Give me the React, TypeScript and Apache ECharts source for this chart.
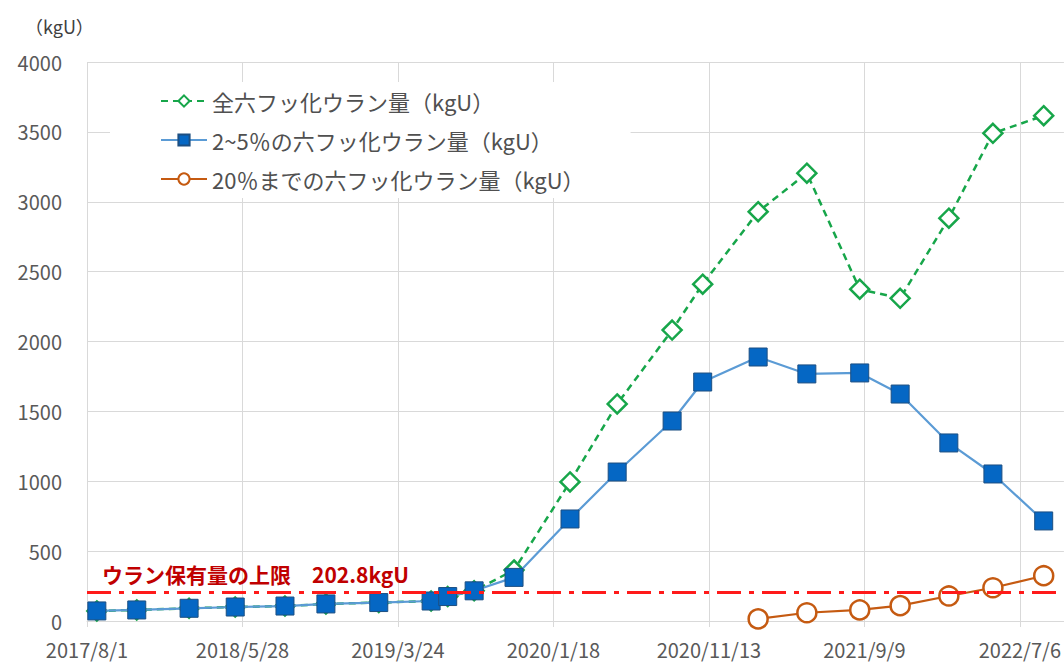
import React, { useEffect, useRef } from "react";
import * as echarts from "echarts";

const BASE_DATE = "2017/8/1";
const dates = [
  "2017/8/20", "2017/11/5", "2018/2/14", "2018/5/14", "2018/8/18", "2018/11/5",
  "2019/2/15", "2019/5/27", "2019/6/28", "2019/8/18", "2019/11/3", "2020/2/19",
  "2020/5/20", "2020/9/3", "2020/11/1", "2021/2/16", "2021/5/21", "2021/8/31",
  "2021/11/17", "2022/2/19", "2022/5/15", "2022/8/21",
];
const totalUF6 = [72, 79, 91, 100, 107, 122, 132, 143, 175, 216, 365, 995, 1553, 2082, 2410, 2929, 3204, 2374, 2309, 2882, 3490, 3616];
const lowEnriched = [72, 79, 91, 100, 107, 122, 132, 143, 175, 216, 312, 730, 1066, 1431, 1710, 1889, 1768, 1775, 1624, 1274, 1052, 716];
const upTo20 = [null, null, null, null, null, null, null, null, null, null, null, null, null, null, null, 15, 59, 79, 110, 179, 238, 324];
const seriesNames = ["全六フッ化ウラン量（kgU）", "2~5％の六フッ化ウラン量（kgU）", "20％までの六フッ化ウラン量（kgU）"];
const LIMIT = 202.8;
const LIMIT_LABEL = "ウラン保有量の上限\u3000202.8kgU";
const X_MAX_DAYS = 1885;
const X_INTERVAL_DAYS = 300;

const DAY = 86400000;
const toUTC = (s: string) => {
  const [y, m, d] = s.split("/").map(Number);
  return Date.UTC(y, m - 1, d);
};
const base = toUTC(BASE_DATE);
const dayOf = (s: string) => Math.round((toUTC(s) - base) / DAY);
const fmtDay = (v: number) => {
  const d = new Date(base + v * DAY);
  return `${d.getUTCFullYear()}/${d.getUTCMonth() + 1}/${d.getUTCDate()}`;
};
const pairs = (vals: (number | null)[]) =>
  dates.map((s, i) => [dayOf(s), vals[i]]).filter((p) => p[1] !== null);

const FONT = "'Noto Sans CJK JP', 'Noto Sans', sans-serif";
const GREEN = "#17a64a";
const BLUE_LINE = "#5b9bd5";
const BLUE_FILL = "#0567c4";
const ORANGE = "#c55a11";
const GRID = "#d9d9d9";
const TEXT = "#595959";

export default function App() {
  const ref = useRef<HTMLDivElement>(null);
  useEffect(() => {
    if (!ref.current) return;
    const chart = echarts.init(ref.current, undefined, { renderer: "svg" });
    chart.setOption({
      animation: false,
      textStyle: { fontFamily: FONT },
      title: {
        text: "（kgU）",
        left: 20,
        top: 12,
        textStyle: { fontSize: 18, fontWeight: "normal", color: "#404040", fontFamily: FONT },
      },
      legend: {
        orient: "vertical",
        left: 110,
        top: 82,
        backgroundColor: "#ffffff",
        padding: [8, 46, 8, 50],
        itemGap: 17,
        itemWidth: 46,
        itemHeight: 14,
        textStyle: { fontSize: 22, color: "#505050", fontFamily: FONT, lineHeight: 22 },
        data: seriesNames,
      },
      grid: { left: 87, right: 0, top: 62, bottom: 41, containLabel: false },
      xAxis: {
        type: "value",
        min: 0,
        max: X_MAX_DAYS,
        interval: X_INTERVAL_DAYS,
        axisLine: { show: true, lineStyle: { color: GRID, width: 1 } },
        axisTick: { show: true, length: 6, lineStyle: { color: GRID } },
        splitLine: { show: true, lineStyle: { color: GRID, width: 1 } },
        axisLabel: {
          formatter: (v: number) => fmtDay(v),
          fontSize: 20,
          color: TEXT,
          margin: 18,
          showMaxLabel: false,
          fontFamily: FONT,
        },
      },
      yAxis: {
        type: "value",
        min: 0,
        max: 4000,
        interval: 500,
        axisLine: { show: false },
        axisTick: { show: false },
        splitLine: { show: true, lineStyle: { color: GRID, width: 1 } },
        axisLabel: { fontSize: 20, color: TEXT, margin: 25, fontFamily: FONT, formatter: (v: number) => String(v) },
      },
      series: [
        {
          name: seriesNames[0],
          type: "line",
          data: pairs(totalUF6),
          symbol: "diamond",
          symbolSize: 19,
          showAllSymbol: true,
          lineStyle: { color: GREEN, width: 2.5, type: [7, 5] },
          itemStyle: { color: "#ffffff", borderColor: GREEN, borderWidth: 2.5 },
          z: 2,
        },
        {
          name: seriesNames[1],
          type: "line",
          data: pairs(lowEnriched),
          symbol: "rect",
          symbolSize: 18,
          showAllSymbol: true,
          lineStyle: { color: BLUE_LINE, width: 2.2 },
          itemStyle: { color: BLUE_FILL, borderColor: "#1d4f82", borderWidth: 1 },
          z: 3,
          markLine: {
            silent: true,
            symbol: "none",
            data: [{ yAxis: LIMIT }],
            lineStyle: { color: "#ff1a1a", width: 3, type: [24, 8, 5, 8] },
            label: {
              show: true,
              position: "insideStartTop",
              formatter: LIMIT_LABEL,
              color: "#c00000",
              fontSize: 21,
              fontWeight: "bold",
              fontFamily: FONT,
              distance: [15, 8],
            },
          },
        },
        {
          name: seriesNames[2],
          type: "line",
          data: pairs(upTo20),
          symbol: "circle",
          symbolSize: 19,
          showAllSymbol: true,
          lineStyle: { color: ORANGE, width: 2.2 },
          itemStyle: { color: "#ffffff", borderColor: ORANGE, borderWidth: 2.5 },
          z: 4,
        },
      ],
    });
    return () => chart.dispose();
  }, []);
  return (
    <div
      ref={ref}
      style={{ position: "fixed", left: 0, top: 0, width: 1064, height: 662, background: "#ffffff" }}
    />
  );
}
